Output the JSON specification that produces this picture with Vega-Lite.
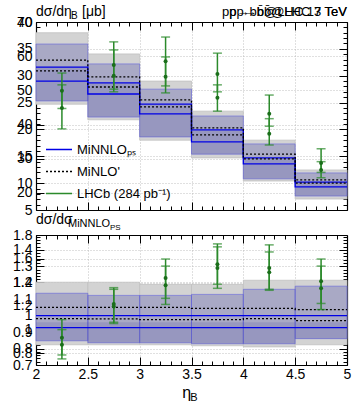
{
  "$schema": "https://vega.github.io/schema/vega-lite/v6.json",
  "padding": {"left": 12, "top": 5, "right": 3, "bottom": 0},
  "background": "white",
  "spacing": -4,
  "resolve": {"scale": {"color": "independent"}},
  "config": {
    "view": {"stroke": null},
    "font": "Liberation Sans",
    "axis": {"domainColor": "#000", "tickColor": "#000", "labelColor": "#000", "labelFontSize": 14, "labelFont": "Liberation Sans", "gridColor": "#b0b0b0", "gridDash": [1, 2], "gridWidth": 0.8, "zindex": 1, "labelFlush": false, "labelOverlap": false, "tickWidth": 1, "domainWidth": 1.2},
    "legend": {"orient": "bottom-left", "offset": 9, "padding": 0, "labelFontSize": 13, "labelFont": "Liberation Sans", "symbolType": "stroke", "symbolSize": 676, "symbolStrokeWidth": 1.5, "rowPadding": 8, "labelOffset": 4, "clipHeight": 13}
  },
  "datasets": {
    "topbins": [
      {"lo": 2, "hi": 2.5, "g_lo": 24.7, "g_hi": 38.0, "b_lo": 25.3, "b_hi": 35.9, "i_lo": 25.3, "i_hi": 31.6},
      {"lo": 2.5, "hi": 3, "g_lo": 21.8, "g_hi": 34.05, "b_lo": 22.3, "b_hi": 32.2, "i_lo": 22.3, "i_hi": 28.65},
      {"lo": 3, "hi": 3.5, "g_lo": 18.0, "g_hi": 29.0, "b_lo": 18.6, "b_hi": 27.5, "i_lo": 18.6, "i_hi": 24.7},
      {"lo": 3.5, "hi": 4, "g_lo": 14.7, "g_hi": 23.4, "b_lo": 15.4, "b_hi": 22.5, "i_lo": 15.4, "i_hi": 19.9},
      {"lo": 4, "hi": 4.5, "g_lo": 10.4, "g_hi": 18.0, "b_lo": 10.8, "b_hi": 17.3, "i_lo": 10.8, "i_hi": 14.7},
      {"lo": 4.5, "hi": 5, "g_lo": 7.05, "g_hi": 12.45, "b_lo": 7.6, "b_hi": 11.9, "i_lo": 7.6, "i_hi": 10.2}
    ],
    "topsteps": [
      {"x": 2, "model": "MiNNLOₚₛ", "set": "a", "v": 31.6},
      {"x": 2.5, "model": "MiNNLOₚₛ", "set": "a", "v": 28.65},
      {"x": 3, "model": "MiNNLOₚₛ", "set": "a", "v": 24.7},
      {"x": 3.5, "model": "MiNNLOₚₛ", "set": "a", "v": 19.9},
      {"x": 4, "model": "MiNNLOₚₛ", "set": "a", "v": 14.7},
      {"x": 4.5, "model": "MiNNLOₚₛ", "set": "a", "v": 10.2},
      {"x": 5, "model": "MiNNLOₚₛ", "set": "a", "v": 10.2},
      {"x": 2, "model": "MiNNLOₚₛ", "set": "b", "v": 29.0},
      {"x": 2.5, "model": "MiNNLOₚₛ", "set": "b", "v": 26.6},
      {"x": 3, "model": "MiNNLOₚₛ", "set": "b", "v": 22.9},
      {"x": 3.5, "model": "MiNNLOₚₛ", "set": "b", "v": 17.7},
      {"x": 4, "model": "MiNNLOₚₛ", "set": "b", "v": 13.6},
      {"x": 4.5, "model": "MiNNLOₚₛ", "set": "b", "v": 9.3},
      {"x": 5, "model": "MiNNLOₚₛ", "set": "b", "v": 9.3},
      {"x": 2, "model": "MiNLO'", "set": "a", "v": 32.9},
      {"x": 2.5, "model": "MiNLO'", "set": "a", "v": 29.8},
      {"x": 3, "model": "MiNLO'", "set": "a", "v": 25.5},
      {"x": 3.5, "model": "MiNLO'", "set": "a", "v": 20.3},
      {"x": 4, "model": "MiNLO'", "set": "a", "v": 15.4},
      {"x": 4.5, "model": "MiNLO'", "set": "a", "v": 10.6},
      {"x": 5, "model": "MiNLO'", "set": "a", "v": 10.6},
      {"x": 2, "model": "MiNLO'", "set": "b", "v": 30.9},
      {"x": 2.5, "model": "MiNLO'", "set": "b", "v": 27.9},
      {"x": 3, "model": "MiNLO'", "set": "b", "v": 24.2},
      {"x": 3.5, "model": "MiNLO'", "set": "b", "v": 19.0},
      {"x": 4, "model": "MiNLO'", "set": "b", "v": 14.5},
      {"x": 4.5, "model": "MiNLO'", "set": "b", "v": 10.0},
      {"x": 5, "model": "MiNLO'", "set": "b", "v": 10.0}
    ],
    "topdata": [
      {"x": 2.25, "set": "a", "y": 24.0, "lo": 20.1, "hi": 28.3},
      {"x": 2.25, "set": "b", "y": 27.2, "lo": 23.9, "hi": 30.5},
      {"x": 2.75, "set": "a", "y": 30.0, "lo": 27.0, "hi": 34.8},
      {"x": 2.75, "set": "b", "y": 32.0, "lo": 27.5, "hi": 36.3},
      {"x": 3.25, "set": "a", "y": 29.8, "lo": 26.8, "hi": 33.5},
      {"x": 3.25, "set": "b", "y": 32.7, "lo": 28.1, "hi": 37.2},
      {"x": 3.75, "set": "a", "y": 25.9, "lo": 23.4, "hi": 28.3},
      {"x": 3.75, "set": "b", "y": 30.3, "lo": 27.0, "hi": 34.2},
      {"x": 4.25, "set": "a", "y": 19.2, "lo": 17.1, "hi": 22.0},
      {"x": 4.25, "set": "b", "y": 22.9, "lo": 20.6, "hi": 26.4},
      {"x": 4.75, "set": "a", "y": 12.45, "lo": 11.0, "hi": 14.0},
      {"x": 4.75, "set": "b", "y": 13.75, "lo": 12.0, "hi": 16.4}
    ],
    "botbins": [
      {"lo": 2, "hi": 2.5, "g_lo": 0.823, "g_hi": 1.203, "b_lo": 0.847, "b_hi": 1.136, "i_lo": 0.847, "i_hi": 0.96},
      {"lo": 2.5, "hi": 3, "g_lo": 0.823, "g_hi": 1.203, "b_lo": 0.835, "b_hi": 1.123, "i_lo": 0.835, "i_hi": 0.96},
      {"lo": 3, "hi": 3.5, "g_lo": 0.823, "g_hi": 1.19, "b_lo": 0.835, "b_hi": 1.123, "i_lo": 0.835, "i_hi": 0.96},
      {"lo": 3.5, "hi": 4, "g_lo": 0.817, "g_hi": 1.19, "b_lo": 0.829, "b_hi": 1.129, "i_lo": 0.829, "i_hi": 0.96},
      {"lo": 4, "hi": 4.5, "g_lo": 0.81, "g_hi": 1.215, "b_lo": 0.829, "b_hi": 1.16, "i_lo": 0.829, "i_hi": 0.96},
      {"lo": 4.5, "hi": 5, "g_lo": 0.823, "g_hi": 1.215, "b_lo": 0.86, "b_hi": 1.179, "i_lo": 0.86, "i_hi": 0.96}
    ],
    "botsteps": [
      {"x": 2, "model": "MiNNLOₚₛ", "set": "a", "v": 1.0},
      {"x": 2.5, "model": "MiNNLOₚₛ", "set": "a", "v": 1.0},
      {"x": 3, "model": "MiNNLOₚₛ", "set": "a", "v": 1.0},
      {"x": 3.5, "model": "MiNNLOₚₛ", "set": "a", "v": 1.0},
      {"x": 4, "model": "MiNNLOₚₛ", "set": "a", "v": 1.0},
      {"x": 4.5, "model": "MiNNLOₚₛ", "set": "a", "v": 1.0},
      {"x": 5, "model": "MiNNLOₚₛ", "set": "a", "v": 1.0},
      {"x": 2, "model": "MiNNLOₚₛ", "set": "b", "v": 0.927},
      {"x": 2.5, "model": "MiNNLOₚₛ", "set": "b", "v": 0.927},
      {"x": 3, "model": "MiNNLOₚₛ", "set": "b", "v": 0.927},
      {"x": 3.5, "model": "MiNNLOₚₛ", "set": "b", "v": 0.927},
      {"x": 4, "model": "MiNNLOₚₛ", "set": "b", "v": 0.927},
      {"x": 4.5, "model": "MiNNLOₚₛ", "set": "b", "v": 0.927},
      {"x": 5, "model": "MiNNLOₚₛ", "set": "b", "v": 0.927},
      {"x": 2, "model": "MiNLO'", "set": "a", "v": 1.05},
      {"x": 2.5, "model": "MiNLO'", "set": "a", "v": 1.05},
      {"x": 3, "model": "MiNLO'", "set": "a", "v": 1.05},
      {"x": 3.5, "model": "MiNLO'", "set": "a", "v": 1.044},
      {"x": 4, "model": "MiNLO'", "set": "a", "v": 1.044},
      {"x": 4.5, "model": "MiNLO'", "set": "a", "v": 1.037},
      {"x": 5, "model": "MiNLO'", "set": "a", "v": 1.037},
      {"x": 2, "model": "MiNLO'", "set": "b", "v": 0.982},
      {"x": 2.5, "model": "MiNLO'", "set": "b", "v": 0.98},
      {"x": 3, "model": "MiNLO'", "set": "b", "v": 0.976},
      {"x": 3.5, "model": "MiNLO'", "set": "b", "v": 0.976},
      {"x": 4, "model": "MiNLO'", "set": "b", "v": 0.982},
      {"x": 4.5, "model": "MiNLO'", "set": "b", "v": 0.97},
      {"x": 5, "model": "MiNLO'", "set": "b", "v": 0.97}
    ],
    "botdata": [
      {"x": 2.25, "set": "a", "y": 0.823, "lo": 0.737, "hi": 0.915},
      {"x": 2.25, "set": "b", "y": 0.866, "lo": 0.761, "hi": 0.976},
      {"x": 2.75, "set": "a", "y": 1.056, "lo": 0.952, "hi": 1.16},
      {"x": 2.75, "set": "b", "y": 1.07, "lo": 0.96, "hi": 1.17},
      {"x": 3.25, "set": "a", "y": 1.185, "lo": 1.068, "hi": 1.301},
      {"x": 3.25, "set": "b", "y": 1.228, "lo": 1.105, "hi": 1.344},
      {"x": 3.75, "set": "a", "y": 1.289, "lo": 1.166, "hi": 1.418},
      {"x": 3.75, "set": "b", "y": 1.313, "lo": 1.191, "hi": 1.436},
      {"x": 4.25, "set": "a", "y": 1.264, "lo": 1.154, "hi": 1.387},
      {"x": 4.25, "set": "b", "y": 1.289, "lo": 1.16, "hi": 1.43},
      {"x": 4.75, "set": "a", "y": 1.166, "lo": 1.037, "hi": 1.301},
      {"x": 4.75, "set": "b", "y": 1.209, "lo": 1.074, "hi": 1.344}
    ]
  },
  "vconcat": [
    {
      "width": 311,
      "height": 188,
      "layer": [
        {
          "layer": [
            {
              "data": {"name": "topbins"},
              "mark": {"type": "rect", "fill": "#d3d3d3", "stroke": "#c0c0c0", "strokeWidth": 0.8},
              "encoding": {
                "x": {"field": "lo", "type": "quantitative", "scale": {"domain": [2, 5], "nice": false, "zero": false}, "axis": {"orient": "bottom", "values": [2, 2.5, 3, 3.5, 4, 4.5, 5], "labels": false, "tickSize": -8, "grid": true, "title": null}},
                "x2": {"field": "hi"},
                "y": {"field": "g_lo", "type": "quantitative", "scale": {"domain": [5, 40], "nice": false, "zero": false}, "axis": {"orient": "left", "values": [5, 10, 15, 20, 25, 30, 35, 40], "tickSize": -8, "labelPadding": 12, "grid": true, "title": null}},
                "y2": {"field": "g_hi"}
              }
            },
            {
              "data": {"name": "topbins"},
              "mark": {"type": "rect", "fill": "#3c3ca0", "fillOpacity": 0.28, "stroke": "#6464dc", "strokeWidth": 1, "strokeOpacity": 0.6},
              "encoding": {
                "x": {"field": "lo", "type": "quantitative", "axis": {"orient": "bottom", "values": [2.1, 2.2, 2.3, 2.4, 2.6, 2.7, 2.8, 2.9, 3.1, 3.2, 3.3, 3.4, 3.6, 3.7, 3.8, 3.9, 4.1, 4.2, 4.3, 4.4, 4.6, 4.7, 4.8, 4.9], "labels": false, "tickSize": -4, "grid": false, "domain": false, "title": null}},
                "x2": {"field": "hi"},
                "y": {"field": "b_lo", "type": "quantitative", "axis": {"orient": "left", "values": [6, 7, 8, 9, 11, 12, 13, 14, 16, 17, 18, 19, 21, 22, 23, 24, 26, 27, 28, 29, 31, 32, 33, 34, 36, 37, 38, 39], "labels": false, "tickSize": -4, "grid": false, "domain": false, "title": null}},
                "y2": {"field": "b_hi"}
              }
            },
            {
              "data": {"name": "topbins"},
              "mark": {"type": "rect", "fill": "#3c3ca0", "fillOpacity": 0.16},
              "encoding": {
                "x": {"field": "lo", "type": "quantitative", "axis": {"orient": "top", "values": [2, 2.5, 3, 3.5, 4, 4.5, 5], "labels": false, "tickSize": -8, "grid": false, "title": null}},
                "x2": {"field": "hi"},
                "y": {"field": "i_lo", "type": "quantitative", "axis": {"orient": "right", "values": [5, 10, 15, 20, 25, 30, 35, 40], "labels": false, "tickSize": -8, "grid": false, "title": null}},
                "y2": {"field": "i_hi"}
              }
            },
            {
              "data": {"name": "topsteps"},
              "mark": {"type": "line", "interpolate": "step-after", "strokeWidth": 1.3},
              "encoding": {
                "x": {"field": "x", "type": "quantitative", "axis": {"orient": "top", "values": [2.1, 2.2, 2.3, 2.4, 2.6, 2.7, 2.8, 2.9, 3.1, 3.2, 3.3, 3.4, 3.6, 3.7, 3.8, 3.9, 4.1, 4.2, 4.3, 4.4, 4.6, 4.7, 4.8, 4.9], "labels": false, "tickSize": -4, "grid": false, "domain": false, "title": null}},
                "y": {"field": "v", "type": "quantitative", "axis": {"orient": "right", "values": [6, 7, 8, 9, 11, 12, 13, 14, 16, 17, 18, 19, 21, 22, 23, 24, 26, 27, 28, 29, 31, 32, 33, 34, 36, 37, 38, 39], "labels": false, "tickSize": -4, "grid": false, "domain": false, "title": null}},
                "color": {"field": "model", "type": "nominal", "scale": {"domain": ["MiNNLOₚₛ", "MiNLO'", "LHCb (284 pb⁻¹)"], "range": ["#0000e6", "#000000", "#2b8a2b"]}, "legend": {"title": null, "encode": {"symbols": {"update": {"strokeDash": {"signal": "datum.index == 1 ? [2, 2] : [1, 0]"}}}}}},
                "strokeDash": {"field": "model", "type": "nominal", "scale": {"domain": ["MiNNLOₚₛ", "MiNLO'"], "range": [[1, 0], [2, 2]]}, "legend": null},
                "detail": {"field": "set", "type": "nominal"}
              }
            },
            {
              "data": {"name": "topdata"},
              "mark": {"type": "rule", "color": "#2b8a2b", "strokeWidth": 1.5},
              "encoding": {
                "x": {"field": "x", "type": "quantitative", "axis": null},
                "y": {"field": "lo", "type": "quantitative", "axis": null},
                "y2": {"field": "hi"}
              }
            },
            {
              "data": {"name": "topdata"},
              "mark": {"type": "tick", "orient": "horizontal", "color": "#2b8a2b", "size": 9, "thickness": 1.5},
              "encoding": {
                "x": {"field": "x", "type": "quantitative", "axis": null},
                "y": {"field": "lo", "type": "quantitative", "axis": null}
              }
            },
            {
              "data": {"name": "topdata"},
              "mark": {"type": "tick", "orient": "horizontal", "color": "#2b8a2b", "size": 9, "thickness": 1.5},
              "encoding": {
                "x": {"field": "x", "type": "quantitative", "axis": null},
                "y": {"field": "hi", "type": "quantitative", "axis": null}
              }
            },
            {
              "data": {"name": "topdata"},
              "mark": {"type": "point", "filled": true, "color": "#1a6e1a", "size": 16, "opacity": 1},
              "encoding": {
                "x": {"field": "x", "type": "quantitative", "axis": null},
                "y": {"field": "y", "type": "quantitative", "axis": null}
              }
            },
            {
              "data": {"values": [{}]},
              "mark": {"type": "text", "text": "dσ/dη", "align": "left", "baseline": "alphabetic", "fontSize": 14, "dy": -6, "color": "#000"},
              "encoding": {"x": {"datum": 2, "type": "quantitative", "axis": null}, "y": {"datum": 40, "type": "quantitative", "axis": null}}
            },
            {
              "data": {"values": [{}]},
              "mark": {"type": "text", "text": "B", "align": "left", "baseline": "alphabetic", "fontSize": 10, "dx": 35, "dy": -3, "color": "#000"},
              "encoding": {"x": {"datum": 2, "type": "quantitative", "axis": null}, "y": {"datum": 40, "type": "quantitative", "axis": null}}
            },
            {
              "data": {"values": [{}]},
              "mark": {"type": "text", "text": "[μb]", "align": "left", "baseline": "alphabetic", "fontSize": 14, "dx": 46, "dy": -6, "color": "#000"},
              "encoding": {"x": {"datum": 2, "type": "quantitative", "axis": null}, "y": {"datum": 40, "type": "quantitative", "axis": null}}
            },
            {
              "data": {"values": [{}]},
              "mark": {"type": "text", "text": "pp→bb̄@LHC 13 TeV", "align": "right", "baseline": "alphabetic", "fontSize": 13, "dy": -6, "color": "#000"},
              "encoding": {"x": {"datum": 5, "type": "quantitative", "axis": null}, "y": {"datum": 40, "type": "quantitative", "axis": null}}
            },
            {
              "data": {"values": [{}]},
              "mark": {"type": "text", "text": "pp→bb̄@LHC 7 TeV", "align": "right", "baseline": "alphabetic", "fontSize": 13, "dy": -6, "color": "#000"},
              "encoding": {"x": {"datum": 5, "type": "quantitative", "axis": null}, "y": {"datum": 40, "type": "quantitative", "axis": null}}
            }
          ],
          "resolve": {"axis": {"x": "independent", "y": "independent"}}
        },
        {
          "data": {"values": [{}]},
          "mark": {"type": "rule", "opacity": 0},
          "encoding": {
            "y": {"datum": 20, "type": "quantitative", "scale": {"domain": [15, 70], "nice": false, "zero": false}, "axis": {"orient": "left", "values": [20, 30, 40, 50, 60, 70], "tickSize": -8, "labelPadding": 12, "grid": true, "domain": false, "title": null}}
          }
        }
      ],
      "resolve": {"scale": {"y": "independent"}, "axis": {"y": "independent"}}
    },
    {
      "width": 311,
      "height": 130,
      "layer": [
        {
          "layer": [
            {
              "data": {"name": "botbins"},
              "mark": {"type": "rect", "fill": "#d3d3d3", "stroke": "#c0c0c0", "strokeWidth": 0.8},
              "encoding": {
                "x": {"field": "lo", "type": "quantitative", "scale": {"domain": [2, 5], "nice": false, "zero": false}, "axis": {"orient": "bottom", "values": [2, 2.5, 3, 3.5, 4, 4.5, 5], "format": "~g", "labels": true, "tickSize": -8, "labelPadding": 10, "grid": true, "title": null}},
                "x2": {"field": "hi"},
                "y": {"field": "g_lo", "type": "quantitative", "scale": {"domain": [0.7, 1.49], "nice": false, "zero": false}, "axis": {"orient": "left", "values": [0.7, 0.8, 0.9, 1, 1.1, 1.2, 1.3, 1.4], "format": "~g", "tickSize": -8, "labelPadding": 12, "grid": true, "title": null}},
                "y2": {"field": "g_hi"}
              }
            },
            {
              "data": {"name": "botbins"},
              "mark": {"type": "rect", "fill": "#3c3ca0", "fillOpacity": 0.28, "stroke": "#6464dc", "strokeWidth": 1, "strokeOpacity": 0.6},
              "encoding": {
                "x": {"field": "lo", "type": "quantitative", "axis": {"orient": "bottom", "values": [2.1, 2.2, 2.3, 2.4, 2.6, 2.7, 2.8, 2.9, 3.1, 3.2, 3.3, 3.4, 3.6, 3.7, 3.8, 3.9, 4.1, 4.2, 4.3, 4.4, 4.6, 4.7, 4.8, 4.9], "labels": false, "tickSize": -4, "grid": false, "domain": false, "title": null}},
                "x2": {"field": "hi"},
                "y": {"field": "b_lo", "type": "quantitative", "axis": {"orient": "left", "values": [0.72, 0.74, 0.76, 0.78, 0.82, 0.84, 0.86, 0.88, 0.92, 0.94, 0.96, 0.98, 1.02, 1.04, 1.06, 1.08, 1.12, 1.14, 1.16, 1.18, 1.22, 1.24, 1.26, 1.28, 1.32, 1.34, 1.36, 1.38, 1.42, 1.44, 1.46, 1.48], "labels": false, "tickSize": -4, "grid": false, "domain": false, "title": null}},
                "y2": {"field": "b_hi"}
              }
            },
            {
              "data": {"name": "botbins"},
              "mark": {"type": "rect", "fill": "#3c3ca0", "fillOpacity": 0.16},
              "encoding": {
                "x": {"field": "lo", "type": "quantitative", "axis": {"orient": "top", "values": [2, 2.5, 3, 3.5, 4, 4.5, 5], "labels": false, "tickSize": -8, "grid": false, "title": null}},
                "x2": {"field": "hi"},
                "y": {"field": "i_lo", "type": "quantitative", "axis": {"orient": "right", "values": [0.7, 0.8, 0.9, 1, 1.1, 1.2, 1.3, 1.4], "labels": false, "tickSize": -8, "grid": false, "title": null}},
                "y2": {"field": "i_hi"}
              }
            },
            {
              "data": {"name": "botsteps"},
              "mark": {"type": "line", "interpolate": "step-after", "strokeWidth": 1.3},
              "encoding": {
                "x": {"field": "x", "type": "quantitative", "axis": {"orient": "top", "values": [2.1, 2.2, 2.3, 2.4, 2.6, 2.7, 2.8, 2.9, 3.1, 3.2, 3.3, 3.4, 3.6, 3.7, 3.8, 3.9, 4.1, 4.2, 4.3, 4.4, 4.6, 4.7, 4.8, 4.9], "labels": false, "tickSize": -4, "grid": false, "domain": false, "title": null}},
                "y": {"field": "v", "type": "quantitative", "axis": {"orient": "right", "values": [0.72, 0.74, 0.76, 0.78, 0.82, 0.84, 0.86, 0.88, 0.92, 0.94, 0.96, 0.98, 1.02, 1.04, 1.06, 1.08, 1.12, 1.14, 1.16, 1.18, 1.22, 1.24, 1.26, 1.28, 1.32, 1.34, 1.36, 1.38, 1.42, 1.44, 1.46, 1.48], "labels": false, "tickSize": -4, "grid": false, "domain": false, "title": null}},
                "stroke": {"field": "model", "type": "nominal", "scale": {"domain": ["MiNNLOₚₛ", "MiNLO'"], "range": ["#0000e6", "#000000"]}, "legend": null},
                "strokeDash": {"field": "model", "type": "nominal", "scale": {"domain": ["MiNNLOₚₛ", "MiNLO'"], "range": [[1, 0], [2, 2]]}, "legend": null},
                "detail": {"field": "set", "type": "nominal"}
              }
            },
            {
              "data": {"name": "botdata"},
              "mark": {"type": "rule", "color": "#2b8a2b", "strokeWidth": 1.5},
              "encoding": {
                "x": {"field": "x", "type": "quantitative", "axis": null},
                "y": {"field": "lo", "type": "quantitative", "axis": null},
                "y2": {"field": "hi"}
              }
            },
            {
              "data": {"name": "botdata"},
              "mark": {"type": "tick", "orient": "horizontal", "color": "#2b8a2b", "size": 9, "thickness": 1.5},
              "encoding": {
                "x": {"field": "x", "type": "quantitative", "axis": null},
                "y": {"field": "lo", "type": "quantitative", "axis": null}
              }
            },
            {
              "data": {"name": "botdata"},
              "mark": {"type": "tick", "orient": "horizontal", "color": "#2b8a2b", "size": 9, "thickness": 1.5},
              "encoding": {
                "x": {"field": "x", "type": "quantitative", "axis": null},
                "y": {"field": "hi", "type": "quantitative", "axis": null}
              }
            },
            {
              "data": {"name": "botdata"},
              "mark": {"type": "point", "filled": true, "color": "#1a6e1a", "size": 16, "opacity": 1},
              "encoding": {
                "x": {"field": "x", "type": "quantitative", "axis": null},
                "y": {"field": "y", "type": "quantitative", "axis": null}
              }
            },
            {
              "data": {"values": [{}]},
              "mark": {"type": "text", "text": "dσ/dσ", "align": "left", "baseline": "alphabetic", "fontSize": 14, "dy": -11, "color": "#000"},
              "encoding": {"x": {"datum": 2, "type": "quantitative", "axis": null}, "y": {"datum": 1.49, "type": "quantitative", "axis": null}}
            },
            {
              "data": {"values": [{}]},
              "mark": {"type": "text", "text": "MiNNLO", "align": "left", "baseline": "alphabetic", "fontSize": 11, "dx": 32, "dy": -8, "color": "#000"},
              "encoding": {"x": {"datum": 2, "type": "quantitative", "axis": null}, "y": {"datum": 1.49, "type": "quantitative", "axis": null}}
            },
            {
              "data": {"values": [{}]},
              "mark": {"type": "text", "text": "PS", "align": "left", "baseline": "alphabetic", "fontSize": 8, "dx": 74, "dy": -5, "color": "#000"},
              "encoding": {"x": {"datum": 2, "type": "quantitative", "axis": null}, "y": {"datum": 1.49, "type": "quantitative", "axis": null}}
            },
            {
              "data": {"values": [{}]},
              "mark": {"type": "text", "text": "η", "align": "left", "baseline": "alphabetic", "fontSize": 16, "dy": 33, "color": "#000"},
              "encoding": {"x": {"datum": 3.41, "type": "quantitative", "axis": null}, "y": {"datum": 0.7, "type": "quantitative", "axis": null}}
            },
            {
              "data": {"values": [{}]},
              "mark": {"type": "text", "text": "B", "align": "left", "baseline": "alphabetic", "fontSize": 11, "dx": 8, "dy": 36, "color": "#000"},
              "encoding": {"x": {"datum": 3.41, "type": "quantitative", "axis": null}, "y": {"datum": 0.7, "type": "quantitative", "axis": null}}
            }
          ],
          "resolve": {"axis": {"x": "independent", "y": "independent"}}
        },
        {
          "data": {"values": [{}]},
          "mark": {"type": "rule", "opacity": 0},
          "encoding": {
            "y": {"datum": 1, "type": "quantitative", "scale": {"domain": [0.7, 1.8], "nice": false, "zero": false}, "axis": {"orient": "left", "values": [0.8, 1, 1.2, 1.4, 1.6, 1.8], "format": "~g", "tickSize": -8, "labelPadding": 12, "grid": true, "domain": false, "title": null}}
          }
        }
      ],
      "resolve": {"scale": {"y": "independent"}, "axis": {"y": "independent"}}
    }
  ]
}
